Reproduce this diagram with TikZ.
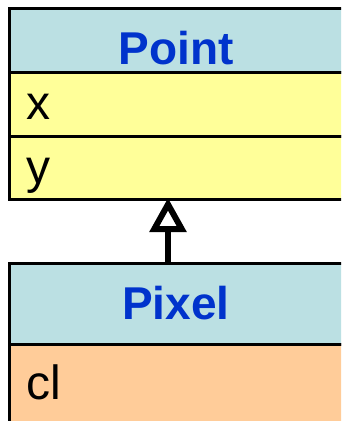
\documentclass[tikz,border=0pt]{standalone}
\usepackage{fontspec}
\setmainfont{Liberation Sans}
\usetikzlibrary{arrows.meta}
\definecolor{hdr}{HTML}{BBE0E3}
\definecolor{attr}{HTML}{FFFF99}
\definecolor{attrb}{HTML}{FFCC99}
\definecolor{ttl}{HTML}{0033CC}
\tikzset{
  cell/.style={draw=black, line width=2.8pt, rectangle, inner sep=0pt, anchor=north west, minimum width=336pt},
  title/.style={inner sep=0pt, anchor=base, text=ttl, font=\fontsize{46}{50}\selectfont\bfseries},
  field/.style={inner sep=0pt, anchor=base west, font=\fontsize{48}{52}\selectfont},
  inherit/.style={line width=6.5pt, -{Triangle[open, length=34pt, width=36pt, line width=6pt]}}
}
\begin{document}
\begin{tikzpicture}[x=1pt, y=-1pt]
\useasboundingbox (0,0) rectangle (341,421);
\clip (0,0) rectangle (341,421);
% Point class
\node[cell, fill=hdr, minimum height=64pt] (ph) at (8,7) {};
\node[cell, fill=attr, minimum height=64pt] (px) at (8,71) {};
\node[cell, fill=attr, minimum height=63pt] (py) at (8,135) {};
\node[title] (pt) at (176,64) {Point};
\node[field] (tx) at (26,119) {x};
\node[field] (ty) at (26,183) {y};
% Pixel class
\node[cell, fill=hdr, minimum height=81pt] (qh) at (8,262) {};
\node[cell, fill=attrb, minimum height=90pt] (qc) at (8,343) {};
\node[title] (qt) at (176,319) {Pixel};
\node[field] (tc) at (26,399) {cl};
% inheritance
\coordinate (a1) at (168,262);
\coordinate (a2) at (168,198);
\draw[inherit] (a1) -- (a2);
\end{tikzpicture}
\end{document}
